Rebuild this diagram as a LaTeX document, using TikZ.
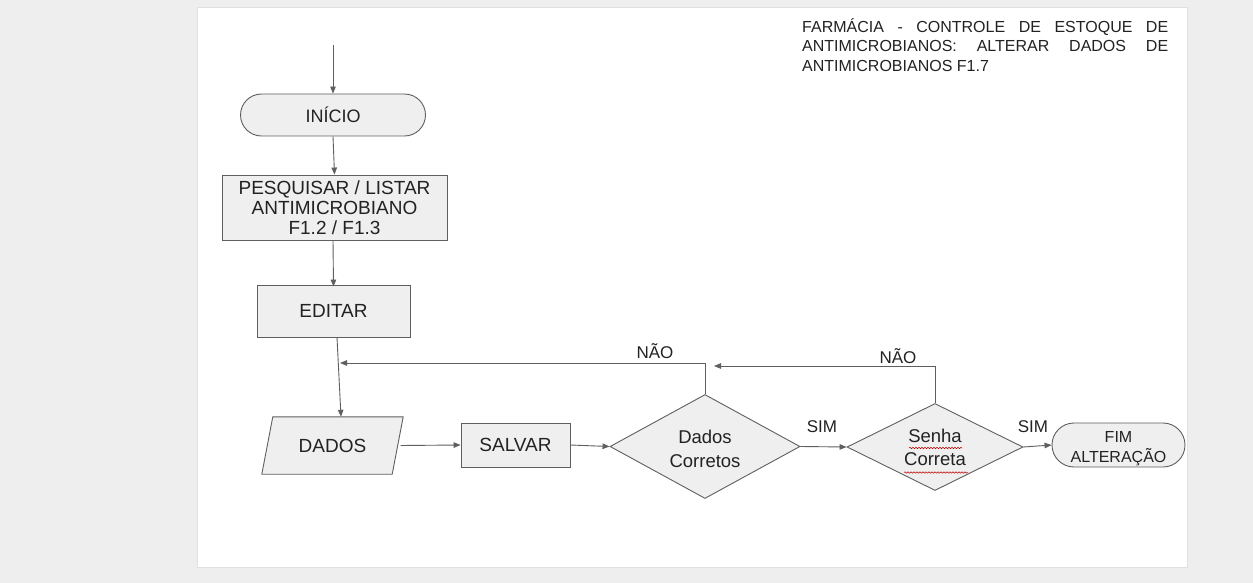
\documentclass[tikz,border=0pt]{standalone}
\usepackage{fontspec}
\setmainfont{Liberation Sans}
\usetikzlibrary{shapes.geometric,shapes.misc,arrows.meta,decorations.pathmorphing}
\definecolor{pagebg}{HTML}{EEEEEE}
\definecolor{shapefill}{HTML}{EFEFEF}
\definecolor{linecol}{HTML}{5F5F5F}
\definecolor{txt}{HTML}{222222}
\begin{document}
\begin{tikzpicture}[x=1pt,y=-1pt,
  every node/.style={text=txt, font=\fontsize{19}{20}\selectfont},
  base/.style={draw=linecol, fill=shapefill, line width=0.9pt, inner sep=0pt, align=center},
  procbox/.style={base, rectangle},
  termbox/.style={base, rounded rectangle},
  decbox/.style={base, diamond, aspect=2},
  ioline/.style={draw=linecol, fill=shapefill, line width=0.9pt},
  conn/.style={draw=linecol, line width=0.9pt, -{Triangle[length=7pt,width=5.5pt]}},
  lbl/.style={font=\fontsize{17}{20}\selectfont},
  spell/.style={draw=red!75!black, line width=0.5pt, decorate, decoration={snake, amplitude=0.7pt, segment length=3pt}}
]
% page and sheet
\fill[pagebg] (0,0) rectangle (1253,583);
\useasboundingbox (0,0) rectangle (1253,583);
\fill[white, draw=black!12] (197,7) rectangle (1187,567);

% title
\node[anchor=north west, text width=366pt, align=justify, inner sep=0pt,
      font=\fontsize{16}{19.5}\selectfont] (title) at (802,18)
  {\hyphenpenalty=10000 FARMÁCIA - CONTROLE DE ESTOQUE DE\linebreak
   ANTIMICROBIANOS: ALTERAR DADOS DE\linebreak
   ANTIMICROBIANOS F1.7};

% flow nodes
\coordinate (entry) at (333,45);
\node[termbox, minimum width=185pt, minimum height=42pt, font=\fontsize{18}{20}\selectfont] (inicio) at (333,115) {INÍCIO};
\node[procbox, minimum width=225pt, minimum height=65pt] (pesq) at (334.5,207.5)
  {PESQUISAR / LISTAR\\ANTIMICROBIANO\\F1.2 / F1.3};
\node[procbox, minimum width=153pt, minimum height=52pt] (edit) at (333.5,311) {EDITAR};
% input/output parallelogram drawn around a plain node
\node[inner sep=0pt, minimum width=130pt, minimum height=57pt] (dados) at (332.5,445.5) {};
\path[ioline] ([xshift=-5.5pt]dados.south west) -- ([xshift=5.5pt]dados.north west)
  -- ([xshift=5.5pt]dados.north east) -- ([xshift=-5.5pt]dados.south east) -- cycle;
\node (dadostxt) at (dados.center) {DADOS};
\node[procbox, minimum width=109pt, minimum height=44pt] (salvar) at (515.5,445) {SALVAR};
\node[decbox, minimum width=190pt, minimum height=104pt] (dc) at (705,446.5) {};
\node[align=center, font=\fontsize{18.5}{24}\selectfont] (dctxt) at ([yshift=-2pt]dc.center) {Dados\\Corretos};
\node[decbox, minimum width=176pt, minimum height=87pt, font=\fontsize{18.5}{23}\selectfont] (sc) at (935,447) {Senha\\Correta};
\node[termbox, minimum width=133pt, minimum height=44pt] (fim) at (1118.5,445) {};
\node[align=center, font=\fontsize{16}{20}\selectfont] (fimtxt) at ([yshift=-3.5pt]fim.center) {FIM\\ALTERAÇÃO};

% junction points of the return loops
\coordinate (j1) at (340,363);
\coordinate (j2) at (714,366);

% connectors
\draw[conn] (entry) -- (inicio.north);
\draw[conn] (inicio.south) -- (pesq.north);
\draw[conn] ([xshift=-1.5pt]pesq.south) -- ([yshift=-2pt]edit.north);
\draw[conn] ([xshift=3.5pt]edit.south) -- ([xshift=8.5pt]dados.north);
\draw[conn] ([xshift=3pt]dados.east) -- (salvar.west);
\draw[conn] (salvar.east) -- (dc.west);
\draw[conn] (dc.east) -- (sc.west);
\draw[conn] (sc.east) -- (fim.west);
\draw[conn] (dc.north) |- (j1);
\draw[conn] (sc.north) |- (j2);

% branch labels
\node[lbl] (nao1) at (655,351) {NÃO};
\node[lbl] (nao2) at (898,356) {NÃO};
\node[lbl] (sim1) at (822,427) {SIM};
\node[lbl] (sim2) at (1033,427) {SIM};

% spell-check underlines
\draw[spell] (909,448) -- (962,448);
\draw[spell] (904,472.5) -- (968,472.5);
\end{tikzpicture}
\end{document}
